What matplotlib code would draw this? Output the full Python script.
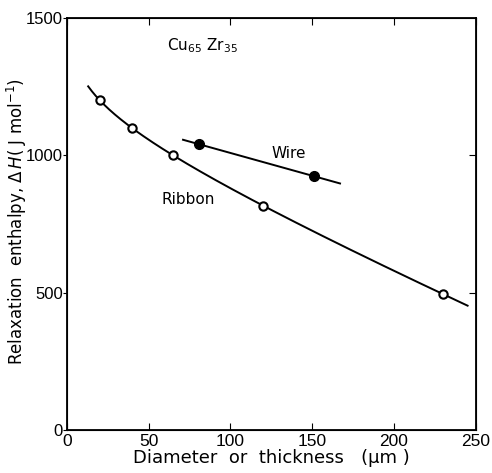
import numpy as np
import matplotlib
matplotlib.use("Agg")
import matplotlib.pyplot as plt

# ribbon thickness (um) vs relaxation enthalpy (J/mol)
ribbon_x = [20, 40, 65, 120, 230]
ribbon_y = [1200, 1100, 1000, 815, 495]
ribbon_range = [13, 245]

# wire diameter (um) vs relaxation enthalpy
wire_x = [81, 151]
wire_y = [1040, 924]
wire_range = [71, 167]

xticks = [0, 50, 100, 150, 200, 250]
yticks = [0, 500, 1000, 1500]

plt.rcParams['font.family'] = ['DejaVu Sans']
narrow = ['Liberation Sans Narrow', 'Liberation Sans', 'DejaVu Sans']

fig = plt.figure(figsize=(4.92, 4.73), dpi=100)
ax = fig.add_axes([0.136, 0.091, 0.831, 0.871])

# smooth curve for ribbon: y = a + b*x + c*ln(x)
rx = np.array(ribbon_x, float)
A = np.column_stack([np.ones_like(rx), rx, np.log(rx)])
coef = np.linalg.lstsq(A, np.array(ribbon_y, float), rcond=None)[0]
xs = np.linspace(ribbon_range[0], ribbon_range[1], 200)
ys = coef[0] + coef[1] * xs + coef[2] * np.log(xs)
ax.plot(xs, ys, color='black', lw=1.4)
ax.plot(ribbon_x, ribbon_y, 'o', mfc='white', mec='black', mew=1.5, ms=6)

# straight line for wire
w = np.polyfit(wire_x, wire_y, 1)
xw = np.array(wire_range)
ax.plot(xw, np.polyval(w, xw), color='black', lw=1.4)
ax.plot(wire_x, wire_y, 'o', color='black', ms=7)

ax.text(61, 1400, r'Cu$_{65}$ Zr$_{35}$', fontsize=11, ha='left', va='center')
ax.text(125, 1005, 'Wire', fontsize=11, ha='left', va='center')
ax.text(58, 838, 'Ribbon', fontsize=11, ha='left', va='center')

ax.set_xlim(0, 250)
ax.set_ylim(0, 1500)
ax.set_xticks(xticks)
ax.set_yticks(yticks)
ax.tick_params(axis='x', direction='in', top=True, length=5, labelsize=12.5, pad=3)
ax.tick_params(axis='y', direction='out', length=3, labelsize=12, pad=0)
for lab in ax.get_xticklabels() + ax.get_yticklabels():
    lab.set_family(narrow)
for s in ax.spines.values():
    s.set_linewidth(1.3)

# inward ticks on the right side
ax2 = ax.twinx()
ax2.set_ylim(0, 1500)
ax2.set_yticks([500, 1000])
ax2.tick_params(axis='y', direction='in', length=5, labelright=False)

ax.set_xlabel('Diameter  or  thickness   (µm )', fontsize=13, labelpad=0)
fig.text(17 / 492, 0.531, r'Relaxation  enthalpy, $\Delta\,H$( J mol$^{-1}$)',
         fontsize=12, rotation=90, ha='center', va='center')

fig.savefig('out.png', dpi=100)
